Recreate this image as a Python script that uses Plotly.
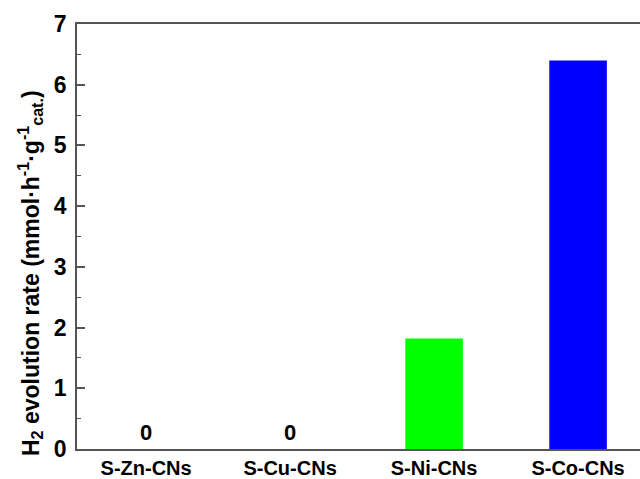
import plotly.graph_objects as go

# Photocatalytic H2 evolution rates of the sulfur-doped metal-CN samples
samples = ["S-Zn-CNs", "S-Cu-CNs", "S-Ni-CNs", "S-Co-CNs"]
rates = [0.0, 0.0, 1.82, 6.40]
bar_colors = ["#00ff00", "#00ff00", "#00ff00", "#0000ff"]
y_ticks = [0, 1, 2, 3, 4, 5, 6, 7]

FONT = "Liberation Sans, Arial, sans-serif"

W, H = 640, 479
ML, MR, MT, MB = 77, 0, 24, 30
pw, ph = W - ML - MR, H - MT - MB

fig = go.Figure()
fig.add_trace(go.Bar(
    x=list(range(len(samples))),
    y=rates,
    width=0.4,
    marker=dict(color=bar_colors, line=dict(width=0)),
    hoverinfo="skip",
))

# Samples with no measurable activity get a "0" label above the baseline
for i, v in enumerate(rates):
    if v == 0:
        fig.add_annotation(
            x=i, y=v, xref="x", yref="y",
            text="<b>%d</b>" % v, showarrow=False,
            yanchor="bottom", yshift=2,
            font=dict(family=FONT, size=22, color="black"),
        )

# Axis title placed in pixel terms, converted to paper coordinates
fig.add_annotation(
    x=(30 - ML) / pw, y=(H - 273 - MB) / ph,
    xref="paper", yref="paper",
    text="<b>H<sub>2</sub> evolution rate (mmol·h<sup>-1</sup>·g<sup>-1</sup><sub>cat.</sub>)</b>",
    textangle=-90, showarrow=False,
    xanchor="center", yanchor="middle",
    font=dict(family=FONT, size=23, color="black"),
)

fig.update_layout(
    width=W, height=H,
    margin=dict(l=ML, r=MR, t=MT, b=MB, pad=0, autoexpand=False),
    paper_bgcolor="white", plot_bgcolor="white",
    showlegend=False,
    font=dict(family=FONT, color="black"),
    xaxis=dict(
        range=[-0.48, 3.43],
        automargin=False,
        tickmode="array",
        tickvals=list(range(len(samples))),
        ticktext=["<b>%s</b>" % s for s in samples],
        tickfont=dict(family=FONT, size=20, color="black"),
        ticks="", showgrid=False, zeroline=False,
        showline=True, linecolor="#555555", linewidth=1.5, mirror=True,
        ticklabelstandoff=0,
    ),
    yaxis=dict(
        range=[0, 7],
        automargin=False,
        tickmode="array",
        tickvals=y_ticks,
        ticktext=["<b>%d</b>" % t for t in y_ticks],
        tickfont=dict(family=FONT, size=23, color="black"),
        ticks="inside", ticklen=8, tickwidth=1.5, tickcolor="#555555",
        minor=dict(dtick=0.5, ticks="inside", ticklen=4, tickwidth=1.2,
                   tickcolor="#555555", showgrid=False),
        showgrid=False, zeroline=False,
        showline=True, linecolor="#555555", linewidth=1.5,
        ticklabelstandoff=4,
    ),
)

fig.write_html("out.html")
